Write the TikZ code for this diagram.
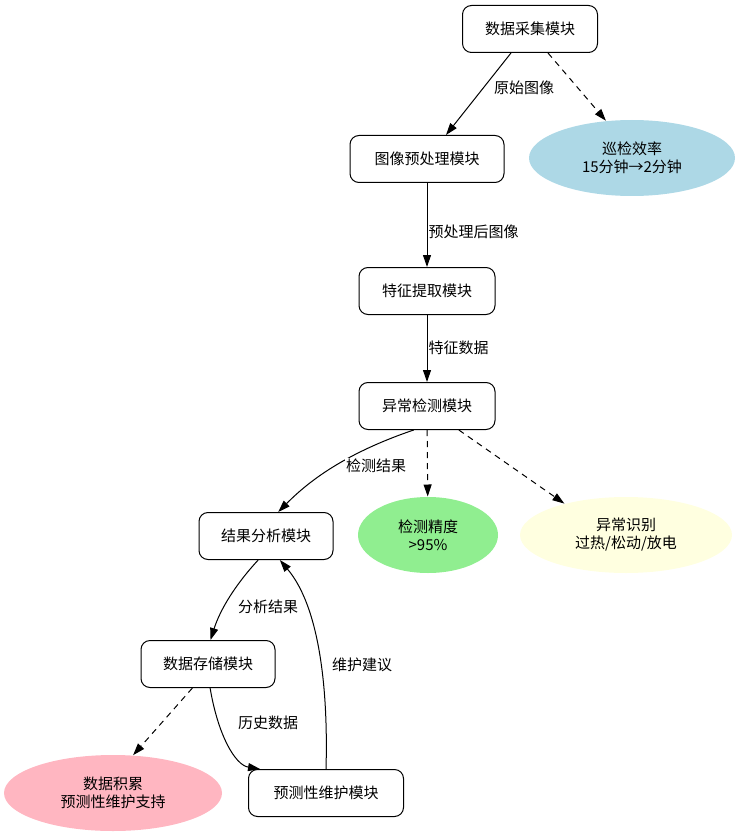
\documentclass[tikz,border=0pt]{standalone}
\usepackage{fontspec}
\setmainfont{Noto Sans CJK SC}
\usetikzlibrary{shapes.geometric,arrows.meta}
\begin{document}
\begin{tikzpicture}[x=1pt,y=-1pt,line width=1pt,
  every node/.style={font=\fontsize{15}{18}\selectfont},
  box/.style={draw,rounded corners=9pt,minimum height=47pt,inner xsep=9pt},
  ell/.style={ellipse,align=center,inner sep=0pt,minimum height=76pt},
  arr/.style={-{Triangle[length=12pt,width=8pt]}},
  dsh/.style={arr,dash pattern=on 6pt off 5pt},
  lab/.style={fill=white,inner sep=1pt}]
\useasboundingbox (0,0) rectangle (741,834);
\node[box,minimum width=135pt] (a) at (530,29) {数据采集模块};
\node[box,minimum width=154pt] (b) at (427,159) {图像预处理模块};
\node[box,minimum width=136pt] (c) at (427,291) {特征提取模块};
\node[box,minimum width=136pt] (d) at (427,406) {异常检测模块};
\node[box,minimum width=134pt] (e) at (266,536) {结果分析模块};
\node[box,minimum width=134pt] (f) at (208,664) {数据存储模块};
\node[box,minimum width=155pt] (g) at (326,793) {预测性维护模块};
\node[ell,fill={rgb,255:red,173;green,216;blue,230},minimum width=206pt] (p) at (632,158) {巡检效率\\15分钟→2分钟};
\node[ell,fill={rgb,255:red,144;green,238;blue,144},minimum width=140pt] (q) at (428,535) {检测精度\\>95\%};
\node[ell,fill={rgb,255:red,255;green,255;blue,224},minimum width=212pt] (r) at (626,535) {异常识别\\过热/松动/放电};
\node[ell,fill={rgb,255:red,255;green,182;blue,193},minimum width=218pt] (s) at (113,793) {数据积累\\预测性维护支持};
\draw[arr] (a) -- (b);
\node[lab] (la) at (524,88) {原始图像};
\draw[dsh] (a.south) ++(18,0) coordinate (a1) -- (p.125);
\draw[arr] (b) -- (c);
\node[lab,anchor=west,inner sep=0pt] (lb) at (428,232) {预处理后图像};
\draw[arr] (c) -- (d);
\node[lab,anchor=west,inner sep=0pt] (lc) at (428,348) {特征数据};
\draw[arr] (d.241) .. controls (340,455) and (305,485) .. (e.63);
\node[lab] (ld) at (376,466) {检测结果};
\draw[dsh] (d) -- (q);
\draw[dsh] (d.323) -- (r.153);
\draw[arr] (e.252) .. controls (235,585) and (220,610) .. (f.84);
\node[lab] (le) at (268,607) {分析结果};
\draw[dsh] (f.237) -- (s.62);
\draw[arr] (f.275) .. controls (218,735) and (235,765) .. (g.160);
\node[lab] (lf) at (268,723) {历史数据};
\draw[arr] (g.90) .. controls (328,700) and (322,610) .. (e.300);
\node[lab] (lg) at (362,665) {维护建议};
\end{tikzpicture}
\end{document}
